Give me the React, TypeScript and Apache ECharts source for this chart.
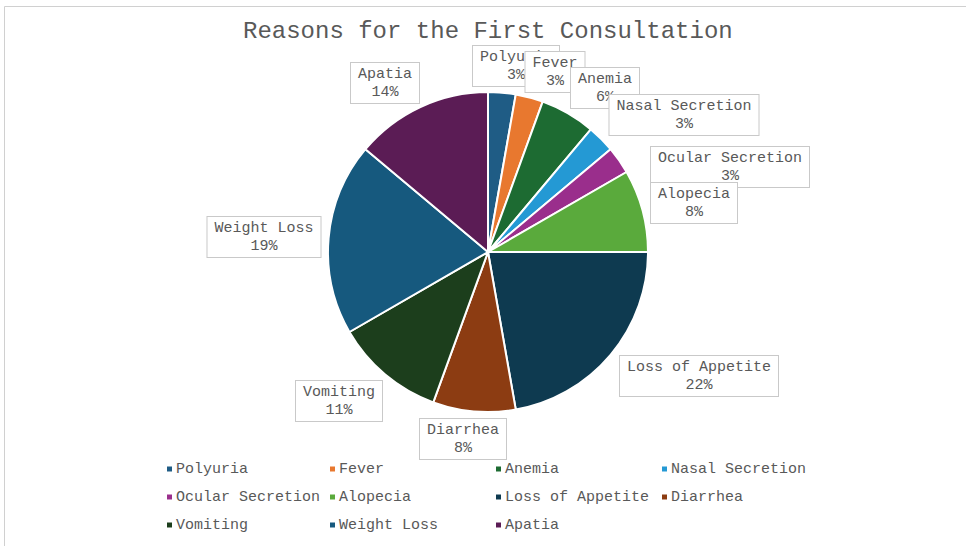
import React, { useEffect, useRef } from "react";
import * as echarts from "echarts";

const categories = [
  "Polyuria",
  "Fever",
  "Anemia",
  "Nasal Secretion",
  "Ocular Secretion",
  "Alopecia",
  "Loss of Appetite",
  "Diarrhea",
  "Vomiting",
  "Weight Loss",
  "Apatia",
];
const counts = [1, 1, 2, 1, 1, 3, 8, 3, 4, 7, 5];
const colors = [
  "#1f5c85",
  "#e8782f",
  "#1d6b32",
  "#2499d4",
  "#9a2e8c",
  "#5aaa3c",
  "#0e3a50",
  "#8c3c12",
  "#1c3e1c",
  "#16597e",
  "#5b1c55",
];
// label box centres (px)
const labelPos: [number, number][] = [
  [516, 66],
  [555, 72],
  [605, 88],
  [684, 115],
  [730, 167],
  [694, 203],
  [699, 376],
  [463, 439],
  [339, 401],
  [264, 237],
  [385, 83],
];
const legendColumns = [
  ["Polyuria", "Ocular Secretion", "Vomiting"],
  ["Fever", "Alopecia", "Weight Loss"],
  ["Anemia", "Loss of Appetite", "Apatia"],
  ["Nasal Secretion", "Diarrhea"],
];
const legendLeft = [165, 328, 494, 660];

const FONT = "'Liberation Mono', 'DejaVu Sans Mono', monospace";
const TEXT = "#595959";

export default function App() {
  const ref = useRef<HTMLDivElement>(null);
  useEffect(() => {
    if (!ref.current) return;
    const chart = echarts.init(ref.current, undefined, { renderer: "svg" });
    const total = counts.reduce((a, b) => a + b, 0);
    chart.setOption({
      animation: false,
      backgroundColor: "#ffffff",
      title: {
        text: "Reasons for the First Consultation",
        left: 243,
        top: 19,
        padding: 0,
        textStyle: {
          fontFamily: FONT,
          fontSize: 24,
          fontWeight: "normal",
          color: TEXT,
        },
      },
      legend: legendColumns.map((col, i) => ({
        orient: "vertical",
        left: legendLeft[i],
        top: 460,
        padding: 0,
        itemGap: 10,
        itemWidth: 7,
        itemHeight: 7,
        icon: "rect",
        data: col,
        selectedMode: false,
        textStyle: {
          fontFamily: FONT,
          fontSize: 15,
          color: TEXT,
          lineHeight: 18,
          padding: [0, 0, 0, -2],
        },
      })),
      graphic: [
        {
          type: "line",
          shape: { x1: 4.5, y1: 6.5, x2: 966, y2: 6.5 },
          style: { stroke: "#d0d0d0", lineWidth: 1 },
        },
        {
          type: "line",
          shape: { x1: 4.5, y1: 6.5, x2: 4.5, y2: 546 },
          style: { stroke: "#d0d0d0", lineWidth: 1 },
        },
      ],
      series: [
        {
          type: "pie",
          center: [488, 252],
          radius: [0, 160],
          startAngle: 90,
          clockwise: true,
          itemStyle: { borderColor: "#ffffff", borderWidth: 2 },
          data: categories.map((name, i) => ({
            name,
            value: counts[i],
            itemStyle: { color: colors[i] },
          })),
          label: {
            show: true,
            position: "outside",
            formatter: (p: any) =>
              `${p.name}\n${Math.round((p.value / total) * 100)}%`,
            fontFamily: FONT,
            fontSize: 15,
            lineHeight: 18,
            color: TEXT,
            backgroundColor: "#ffffff",
            borderColor: "#c9c9c9",
            borderWidth: 1,
            padding: [2, 7, 2, 7],
            align: "center",
          },
          labelLine: { show: false },
          labelLayout: (params: any) => {
            const p = labelPos[params.dataIndex];
            return {
              x: p[0],
              y: p[1],
              align: "center",
              verticalAlign: "middle",
            };
          },
          emphasis: { disabled: true },
        },
      ],
    });
    return () => chart.dispose();
  }, []);
  return (
    <div
      ref={ref}
      style={{ position: "absolute", left: 0, top: 0, width: 966, height: 546 }}
    />
  );
}
